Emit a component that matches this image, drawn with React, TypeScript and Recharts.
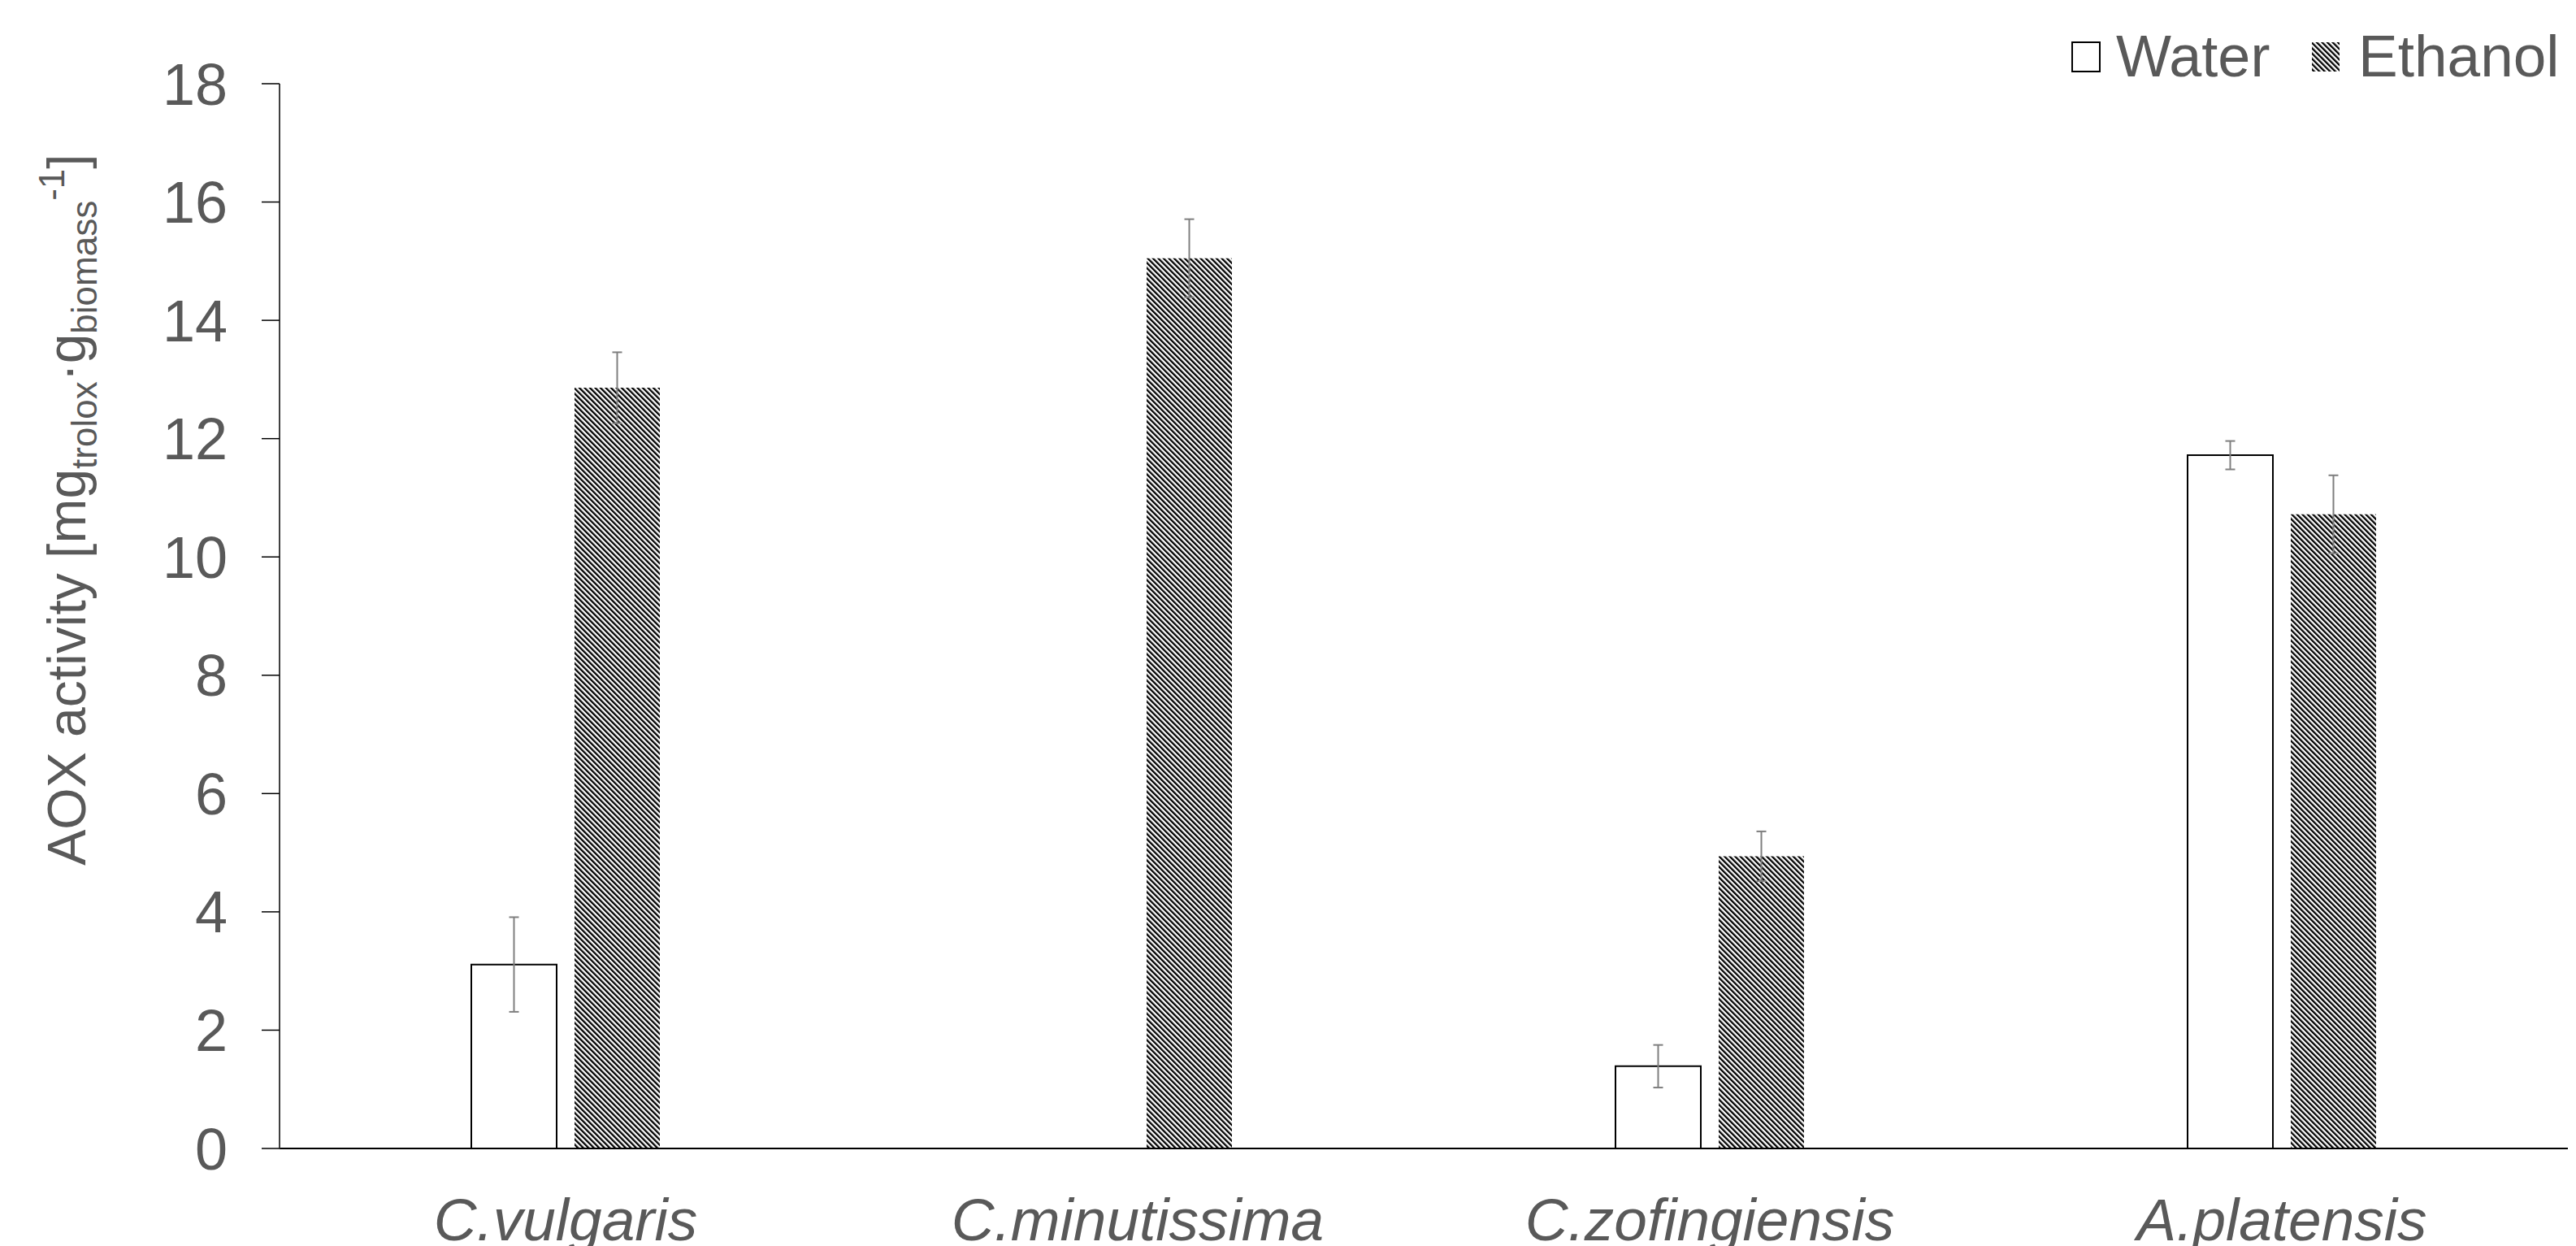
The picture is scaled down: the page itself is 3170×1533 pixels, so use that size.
import { BarChart, Bar, XAxis, YAxis, ErrorBar } from "recharts";

const species = ["C.vulgaris", "C.minutissima", "C.zofingiensis", "A.platensis"];
const waterValues = [3.11, null, 1.39, 11.72];
const waterErrors = [0.8, null, 0.36, 0.24];
const ethanolValues = [12.86, 15.05, 4.94, 10.72];
const ethanolErrors = [0.6, 0.66, 0.42, 0.66];
const yTicks = [0, 2, 4, 6, 8, 10, 12, 14, 16, 18];

const data = species.map((name, i) => ({
  name,
  water: waterValues[i],
  waterErr: waterErrors[i],
  ethanol: ethanolValues[i],
  ethanolErr: ethanolErrors[i],
}));

const FONT = '"Liberation Sans", Arial, sans-serif';
const TEXT = "#595959";

function HatchDef({ id }: { id: string }) {
  return (
    <pattern
      id={id}
      patternUnits="userSpaceOnUse"
      width={4.6}
      height={4.6}
      patternTransform="rotate(-45)"
    >
      <rect width={4.6} height={4.6} fill="#fff" />
      <rect width={2.3} height={4.6} fill="#000" />
    </pattern>
  );
}

function SpeciesTick({ x, y, payload }: any) {
  return (
    <text
      x={x}
      y={y + 113}
      textAnchor="middle"
      fontFamily={FONT}
      fontSize={73}
      fontStyle="italic"
      fill={TEXT}
    >
      {payload.value}
    </text>
  );
}

function YLabel({ viewBox }: any) {
  const cx = viewBox.x + 105;
  const cy = viewBox.y + viewBox.height / 2 - 131;
  return (
    <text
      x={cx}
      y={cy}
      transform={`rotate(-90 ${cx} ${cy})`}
      textAnchor="middle"
      fontFamily={FONT}
      fontSize={66}
      fill={TEXT}
    >
      AOX activity [mg
      <tspan fontSize={44} dy={14}>trolox</tspan>
      <tspan fontSize={66} dy={-14}>·g</tspan>
      <tspan fontSize={44} dy={14}>biomass</tspan>
      <tspan fontSize={44} dy={-40}>-1</tspan>
      <tspan fontSize={66} dy={26}>]</tspan>
    </text>
  );
}

function LegendBox() {
  return (
    <svg
      width={3170}
      height={130}
      style={{ position: "absolute", left: 0, top: 0, pointerEvents: "none" }}
    >
      <defs>
        <HatchDef id="hatch-legend" />
      </defs>
      <rect x={2550} y={52} width={34} height={36} fill="#fff" stroke="#000" strokeWidth={2} />
      <text x={2604} y={94} fontFamily={FONT} fontSize={72} fill={TEXT}>
        Water
      </text>
      <rect x={2845} y={52} width={34} height={36} fill="url(#hatch-legend)" />
      <text x={2902} y={94} fontFamily={FONT} fontSize={73} fill={TEXT}>
        Ethanol
      </text>
    </svg>
  );
}

export default function App() {
  return (
    <div style={{ position: "relative", width: 3170, height: 1533, background: "#fff" }}>
      <style>{`body{margin:0}`}</style>
      <BarChart
        width={3170}
        height={1533}
        data={data}
        margin={{ top: 103, right: 10, bottom: 0, left: 0 }}
        barSize={105}
        barGap={22}
      >
        <defs>
          <HatchDef id="hatch" />
        </defs>
        <XAxis
          dataKey="name"
          height={120}
          tickLine={false}
          tickSize={0}
          tickMargin={0}
          axisLine={{ stroke: "#000", strokeWidth: 2 }}
          tick={<SpeciesTick />}
          interval={0}
        />
        <YAxis
          width={344}
          domain={[0, 18]}
          ticks={yTicks}
          interval={0}
          tickSize={22}
          tickMargin={42}
          tickLine={{ stroke: "#000", strokeWidth: 1.5 }}
          axisLine={{ stroke: "#404040", strokeWidth: 2 }}
          tick={{ fontSize: 72, fill: TEXT, fontFamily: FONT }}
          label={<YLabel />}
        />
        <Bar
          dataKey="water"
          fill="#fff"
          stroke="#000"
          strokeWidth={2}
          isAnimationActive={false}
        >
          <ErrorBar dataKey="waterErr" width={6} strokeWidth={2} stroke="#7f7f7f" direction="y" />
        </Bar>
        <Bar dataKey="ethanol" fill="url(#hatch)" isAnimationActive={false}>
          <ErrorBar dataKey="ethanolErr" width={6} strokeWidth={2} stroke="#7f7f7f" direction="y" />
        </Bar>
      </BarChart>
      <LegendBox />
    </div>
  );
}
